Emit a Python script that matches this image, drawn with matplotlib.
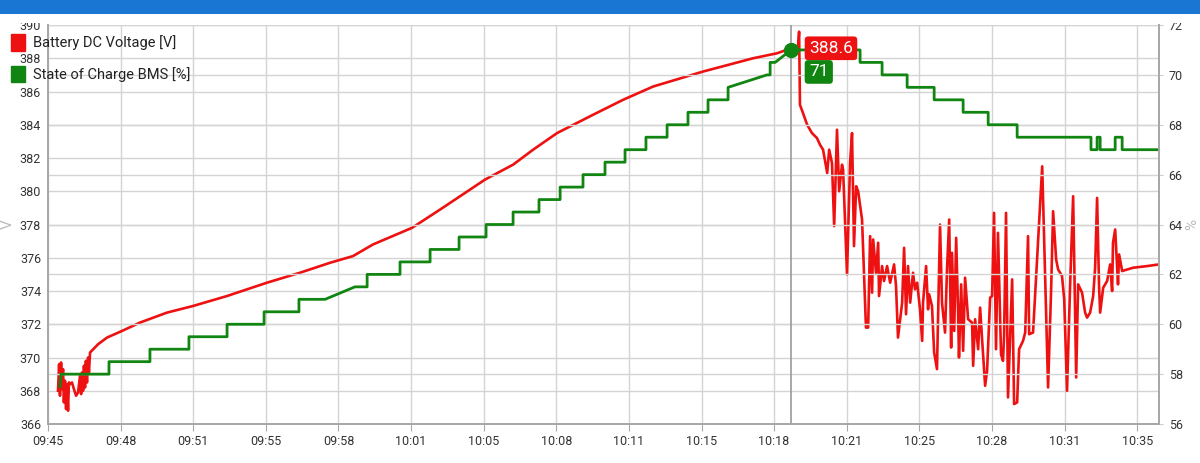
import matplotlib
matplotlib.use("Agg")
import matplotlib.pyplot as plt
import matplotlib.dates as mdates
from matplotlib.patches import Patch, Rectangle
from datetime import datetime, timedelta

plt.rcParams['font.family'] = ['Roboto', 'DejaVu Sans']

# --- data: minutes after 09:45:00 ---
volt_min = [0.46, 0.51, 0.55, 0.60, 0.64, 0.69, 0.73, 0.78, 0.83, 0.87, 0.92, 0.96, 1.01,
            1.10, 1.19, 1.29, 1.38, 1.47, 1.52, 1.56, 1.61, 1.65, 1.70, 1.74, 1.79, 1.84,
            1.88, 1.93, 2.30, 2.71, 3.40, 4.22, 5.46, 6.66, 8.22, 10.05, 11.57, 12.95, 14.00,
            14.92, 16.71, 18.00, 20.06, 21.35, 22.27, 23.37, 25.02, 26.40, 27.78, 30.07,
            32.37, 33.47, 34.11, 34.43, 34.48, 34.52, 34.66, 34.85, 35.07, 35.30, 35.44,
            35.58, 35.77, 35.86, 35.99, 36.09, 36.22, 36.32, 36.45, 36.50, 36.68, 36.82,
            36.91, 37.00, 37.10, 37.19, 37.37, 37.55, 37.65, 37.74, 37.83, 37.88, 38.01,
            38.11, 38.15, 38.29, 38.38, 38.52, 38.66, 38.84, 38.93, 39.02, 39.21, 39.30,
            39.39, 39.48, 39.58, 39.71, 39.80, 39.90, 40.03, 40.13, 40.17, 40.31, 40.40,
            40.45, 40.58, 40.68, 40.81, 40.86, 40.95, 41.04, 41.18, 41.27, 41.37, 41.46,
            41.50, 41.60, 41.69, 41.78, 41.82, 41.92, 42.01, 42.10, 42.24, 42.42, 42.47,
            42.56, 42.70, 42.79, 42.88, 43.02, 43.11, 43.25, 43.34, 43.43, 43.52, 43.61,
            43.75, 43.84, 43.89, 43.98, 44.07, 44.17, 44.26, 44.35, 44.49, 44.58, 44.76,
            44.86, 44.99, 45.04, 45.22, 45.64, 45.77, 45.91, 46.05, 46.14, 46.28,
            46.37, 46.55, 46.65, 46.78, 46.92, 47.06, 47.20, 47.29, 47.47, 47.61, 47.70,
            47.84, 47.98, 48.07, 48.16, 48.25, 48.30, 48.44, 48.62, 48.76, 48.85, 48.89,
            48.99, 49.08, 49.12, 49.17, 49.31, 49.81, 50.46, 51.0]
volt_v = [368.0, 369.6, 367.7, 369.7, 368.1, 369.3, 367.3, 368.6, 366.9, 368.4, 366.8, 368.5,
          368.4, 368.5, 368.1, 367.7, 367.9, 368.9, 367.8, 369.1, 368.0, 369.5, 368.2, 369.8,
          368.5, 370.0, 369.1, 370.3, 370.8, 371.2, 371.6, 372.1, 372.7, 373.1, 373.7, 374.5, 375.1,
          375.7, 376.1, 376.8, 377.8, 378.9, 380.7, 381.6, 382.5, 383.5, 384.6, 385.5, 386.3,
          387.2, 388.0, 388.3, 388.6, 388.7, 389.6, 385.2, 384.7, 384.0, 383.5, 383.2, 382.8,
          382.5, 381.1, 382.5, 381.7, 377.9, 383.7, 380.0, 381.6, 381.3, 375.0, 381.7, 383.5,
          376.7, 380.3, 380.0, 378.3, 371.8, 371.8, 377.3, 373.9, 377.1, 375.1, 376.9, 373.7,
          375.5, 374.6, 375.5, 374.5, 375.6, 374.3, 371.2, 373.3, 376.6, 372.6, 375.5, 373.3,
          375.1, 374.1, 374.5, 372.9, 371.0, 373.3, 375.5, 372.9, 373.8, 373.1, 370.3, 369.3,
          372.5, 378.0, 373.3, 371.5, 375.3, 378.3, 370.6, 376.3, 371.6, 377.2, 372.7, 370.0,
          374.4, 370.4, 374.8, 372.3, 372.1, 369.5, 372.3, 370.5, 373.0, 371.1, 368.3, 369.2,
          373.6, 373.7, 378.7, 370.5, 377.5, 370.2, 369.8, 371.3, 378.7, 367.6, 371.3, 374.7,
          367.2, 367.3, 370.5, 371.0, 371.5, 377.3, 371.4, 371.5, 381.5, 375.1, 368.2, 374.1,
          378.8, 375.9, 375.3, 374.9, 373.5, 368.0, 374.3, 379.7, 368.8, 374.4, 373.9, 372.7,
          372.4, 372.7, 373.7, 375.4, 379.6, 374.3, 372.7, 374.2, 374.6, 375.6, 374.0, 376.9,
          377.7, 375.5, 374.4, 376.2, 375.2, 375.4, 375.5, 375.6]

soc_min = [0.55, 0.60, 2.80, 2.80, 4.68, 4.68, 6.47, 6.47, 8.22, 8.22, 9.92, 9.92, 11.52,
           11.52, 12.72, 14.09, 14.65, 14.65, 16.16, 16.16, 17.54, 17.54, 18.87, 18.87,
           20.11, 20.11, 21.35, 21.35, 22.54, 22.54, 23.51, 23.51, 24.56, 24.56, 25.57,
           25.57, 26.49, 26.49, 27.45, 27.45, 28.42, 28.42, 29.38, 29.38, 30.30, 30.30,
           31.22, 31.22, 33.01, 33.15, 33.15, 33.38, 34.11, 37.28, 37.28, 38.29, 38.29,
           39.44, 39.44, 40.68, 40.68, 42.01, 42.01, 43.16, 43.16, 44.49, 44.49, 47.88,
           47.88, 48.16, 48.16, 48.30, 48.30, 48.99, 48.99, 49.31, 49.31, 51.0]
soc_pct = [57.5, 58.0, 58.0, 58.5, 58.5, 59.0, 59.0, 59.5, 59.5, 60.0, 60.0, 60.5, 60.5,
           61.0, 61.0, 61.5, 61.5, 62.0, 62.0, 62.5, 62.5, 63.0, 63.0, 63.5, 63.5, 64.0,
           64.0, 64.5, 64.5, 65.0, 65.0, 65.5, 65.5, 66.0, 66.0, 66.5, 66.5, 67.0, 67.0,
           67.5, 67.5, 68.0, 68.0, 68.5, 68.5, 69.0, 69.0, 69.5, 70.0, 70.0, 70.5, 70.5,
           71.0, 71.0, 70.5, 70.5, 70.0, 70.0, 69.5, 69.5, 69.0, 69.0, 68.5, 68.5, 68.0,
           68.0, 67.5, 67.5, 67.0, 67.0, 67.5, 67.5, 67.0, 67.0, 67.5, 67.5, 67.0, 67.0]

cursor_min = 34.11
cursor_volt = 388.6
cursor_soc = 71

t0 = datetime(2024, 1, 1, 9, 45, 0)
def to_t(mins):
    return [t0 + timedelta(minutes=m) for m in mins]

RED = '#ee1111'
GREEN = '#118511'
GRID = '#d4d4d4'

fig = plt.figure(figsize=(12, 4.63), dpi=100)
ax = fig.add_axes([0.04, 0.0842, 0.9258, 0.8618])
ax2 = ax.twinx()

ax.plot(to_t(volt_min), volt_v, color=RED, lw=1.9, solid_joinstyle='round')
ax2.plot(to_t(soc_min), soc_pct, color=GREEN, lw=2.0)

ax.set_xlim(t0, t0 + timedelta(minutes=51))
ax.set_ylim(366, 390)
ax2.set_ylim(56, 72)
ax.set_yticks(range(366, 391, 2))
ax2.set_yticks(range(56, 73, 2))
ax.set_xticks([t0 + timedelta(seconds=200 * k) for k in range(16)])
ax.xaxis.set_major_formatter(mdates.DateFormatter('%H:%M'))

ax.grid(True, color=GRID, lw=1.0)
ax2.grid(True, axis='y', color=GRID, lw=1.0)
ax.set_axisbelow(True)
ax2.set_axisbelow(True)

for a in (ax, ax2):
    a.spines['top'].set_visible(False)
    for s in ('left', 'right', 'bottom'):
        a.spines[s].set_color('#a8a8a8')
        a.spines[s].set_linewidth(1.3)

ax.tick_params(axis='x', length=5, color='#a8a8a8', pad=3, labelsize=9, labelcolor='#333333')
ax.tick_params(axis='y', length=0, pad=5, labelsize=9, labelcolor='#333333')
ax2.tick_params(axis='y', length=3, color='#cccccc', pad=4, labelsize=9, labelcolor='#333333')

# axis titles
fig.text(8 / 1200, 0.515, 'V', rotation=90, color='#bbbbbb', fontsize=11, ha='center', va='center')
fig.text(1192 / 1200, 0.515, '%', rotation=90, color='#bbbbbb', fontsize=11, ha='center', va='center')

# cursor
tc = mdates.date2num(t0 + timedelta(minutes=cursor_min))
ax2.axvline(tc, color='#999999', lw=1.2)
ax2.plot([tc], [cursor_soc], 'o', color=GREEN, ms=10)
ax2.annotate(f'{cursor_volt}', xy=(tc, cursor_volt), xycoords=ax.transData,
             xytext=(18, 0), textcoords='offset pixels',
             color='white', fontsize=12.5, va='center', ha='left', zorder=6,
             bbox=dict(boxstyle='round,pad=0.25,rounding_size=0.2', fc=RED, ec='none'))
ax2.annotate(f'{cursor_soc}', xy=(tc, cursor_soc), xytext=(18, -22), textcoords='offset pixels',
             color='white', fontsize=12.5, va='center', ha='left', zorder=6,
             bbox=dict(boxstyle='round,pad=0.25,rounding_size=0.2', fc=GREEN, ec='none'))

# legend
handles = [Patch(color=RED, label='Battery DC Voltage [V]'),
           Patch(color=GREEN, label='State of Charge BMS [%]')]
fig.legend(handles=handles, loc='upper left', bbox_to_anchor=(0.001, 0.948), frameon=False,
           fontsize=10.5, handlelength=0.9, handleheight=1.35, handletextpad=0.6,
           labelspacing=1.05, borderaxespad=0.3, labelcolor='#222222')

# app header bar
fig.patches.append(Rectangle((0, 0.9503), 1, 0.02, transform=fig.transFigure, fc='white', ec='none', zorder=10))
fig.patches.append(Rectangle((0, 0.9698), 1, 0.031, transform=fig.transFigure, fc='#1976d2', ec='none', zorder=11))

fig.savefig('out.png', dpi=100)
